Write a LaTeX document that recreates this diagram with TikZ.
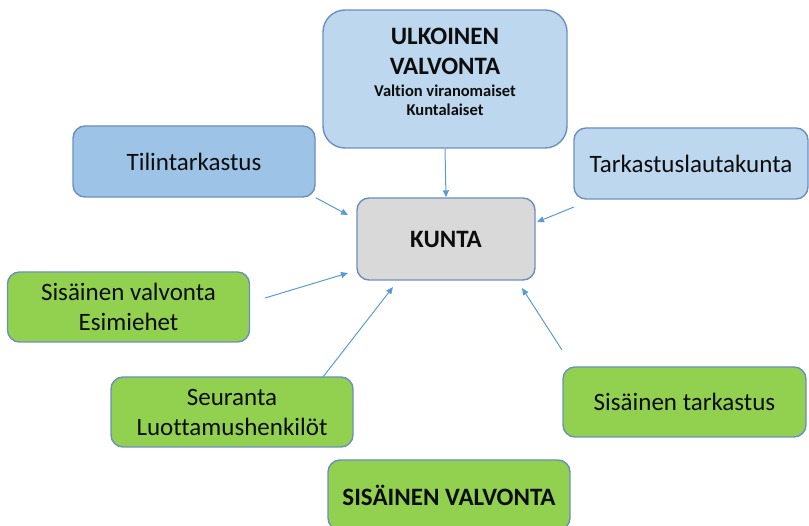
\documentclass[tikz,border=0pt]{standalone}
\usepackage{fontspec}
\setmainfont[Ligatures=NoCommon]{Carlito}
\usetikzlibrary{arrows.meta}
\definecolor{fg}{RGB}{13,13,13}
\definecolor{rim}{RGB}{109,143,190}
\definecolor{lblue}{RGB}{189,215,238}
\definecolor{mblue}{RGB}{157,195,230}
\definecolor{grn}{RGB}{146,208,80}
\definecolor{gry}{RGB}{217,217,217}
\definecolor{arr}{RGB}{91,155,213}
\tikzset{
  every picture/.style={x=1pt, y=-1pt, line join=round,
    >={Triangle[length=7pt,width=6pt]}},
  every node/.style={fg, font=\fontsize{25}{30}\selectfont},
  % Kästen
  box/.style={draw=rim, line width=1.4pt, rounded corners=12pt, fill=#1,
    minimum width=242pt, minimum height=70pt, align=center, inner sep=0pt},
  box/.default=grn,
  % Verbindungen
  link/.style={arr, line width=1pt, ->},
}
\begin{document}
\begin{tikzpicture}
  \useasboundingbox (0,0) rectangle (809,526);
  % äußere Kontrolle
  \node[box=lblue, minimum width=244pt, minimum height=138pt, rounded corners=22pt] (ulk) at (445,79) {};
  \node[anchor=north, align=center, inner sep=0pt, font=\fontsize{25}{30}\selectfont\bfseries] (ulktxt) at (445,28)
    {ULKOINEN\\VALVONTA\\[-8pt]{\fontsize{16.5}{19}\selectfont Valtion viranomaiset}\\[-11pt]{\fontsize{16.5}{19}\selectfont Kuntalaiset}};
  \node[box=mblue, minimum height=71pt] (tili) at (194,161.5) {Tilintarkastus};
  \node[box=lblue, minimum width=234pt, minimum height=71pt] (tark) at (691,163.5) {Tarkastuslautakunta};
  % Mitte
  \node[box=gry, minimum width=178pt, minimum height=82pt, font=\fontsize{25}{30}\selectfont\bfseries] (kunta) at (446,239) {KUNTA};
  % innere Kontrolle
  \node[box] (esim) at (128.5,307) {Sisäinen valvonta\\Esimiehet};
  \node[box] (seur) at (232,412) {Seuranta\\Luottamushenkilöt};
  \node[box, minimum width=243pt] (stark) at (684.5,402) {Sisäinen tarkastus};
  \node[box, font=\fontsize{25}{30}\selectfont\bfseries] (sv) at (449,495) {SISÄINEN VALVONTA};
  % Pfeile zur Kommune
  \coordinate (e-tili) at (348,215);
  \coordinate (s-tark) at (574,207);
  \coordinate (e-tark) at (537,222);
  \coordinate (s-esim) at (265,298);
  \coordinate (e-esim) at (348,273);
  \coordinate (s-seur) at (323,377);
  \coordinate (e-seur) at (393,287);
  \coordinate (s-stark) at (562,350);
  \coordinate (e-stark) at (522,288);
  \draw[link] (ulk.south) -- (kunta.north);
  \draw[link] (tili.south east) -- (e-tili);
  \draw[link] (s-tark) -- (e-tark);
  \draw[link] (s-esim) -- (e-esim);
  \draw[link] (s-seur) -- (e-seur);
  \draw[link] (s-stark) -- (e-stark);
\end{tikzpicture}
\end{document}
